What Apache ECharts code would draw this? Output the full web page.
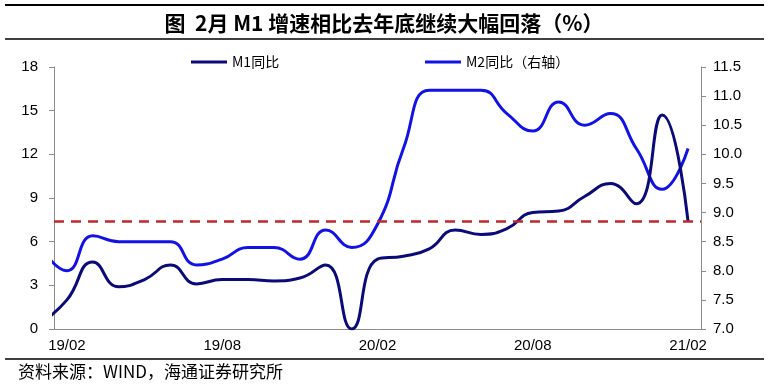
<!DOCTYPE html>
<html>
<head>
<meta charset="utf-8">
<script src="https://cdn.jsdelivr.net/npm/echarts@6/dist/echarts.min.js"></script>
<style>html,body{margin:0;padding:0;background:#fff}#c{width:782px;height:386px}</style>
</head>
<body>
<div id="c"></div>
<script>
// Axis tick labels (categories Feb 2019 .. Feb 2021)
var categories = ['19/02','19/03','19/04','19/05','19/06','19/07','19/08','19/09','19/10','19/11','19/12',
  '20/01','20/02','20/03','20/04','20/05','20/06','20/07','20/08','20/09','20/10','20/11','20/12',
  '21/01','21/02'];
// Monthly values Jan 2019 .. Feb 2021 (index 0 = 2019/01, partly clipped at the left edge)
var m1 = [0.4,2.0,4.6,2.9,3.4,4.4,3.1,3.4,3.4,3.3,3.5,4.4,0.0,4.8,5.0,5.5,6.8,6.5,6.9,8.0,8.1,9.1,10.0,8.6,14.7,7.4];
var m2 = [8.4,8.0,8.6,8.5,8.5,8.5,8.1,8.2,8.4,8.4,8.2,8.7,8.4,8.8,10.1,11.1,11.1,11.1,10.7,10.4,10.9,10.5,10.7,10.1,9.4,10.1];
var refLine = 7.4;

function pairs(arr){ return arr.map(function(v,i){ return [i, v]; }); }

var FONT = '"Liberation Sans", Arial, sans-serif';
var CJK = '"Noto Sans CJK SC", sans-serif';
var axisGray = '#8c8c8c';

var chart = echarts.init(document.getElementById('c'), null, {renderer:'canvas'});
chart.setOption({
  animation: false,
  backgroundColor: '#fff',
  graphic: [
    {type:'line', shape:{x1:5,y1:5,x2:764,y2:5}, style:{stroke:'#000', lineWidth:2}},
    {type:'line', shape:{x1:5,y1:39,x2:764,y2:39}, style:{stroke:'#000', lineWidth:1.5}},
    {type:'line', shape:{x1:5,y1:359,x2:764,y2:359}, style:{stroke:'#000', lineWidth:1.5}},
    {type:'text', x:384, y:23, style:{text:'图  2月 M1 增速相比去年底继续大幅回落（%）', font:'bold 21px ' + CJK, fill:'#000', textAlign:'center', textVerticalAlign:'middle'}},
    {type:'text', x:18, y:372, style:{text:'资料来源：WIND，海通证券研究所', font:'17px ' + CJK, fill:'#000', textAlign:'left', textVerticalAlign:'middle'}}
  ],
  legend: [
    {data:['M1同比'], left:186, top:50, icon:'rect', itemWidth:36, itemHeight:3, itemGap:4,
     textStyle:{fontFamily:CJK, fontSize:14, color:'#000'}},
    {data:['M2同比（右轴）'], left:420, top:50, icon:'rect', itemWidth:36, itemHeight:3, itemGap:4,
     textStyle:{fontFamily:CJK, fontSize:14, color:'#000'}}
  ],
  grid: {left:54, right:81, top:67, bottom:57, containLabel:false},
  xAxis: [
    {type:'category', data:categories, boundaryGap:true, position:'bottom',
     axisLine:{lineStyle:{color:axisGray, width:1}},
     axisTick:{interval:5, length:5, lineStyle:{color:axisGray}},
     axisLabel:{interval:5, color:'#000', fontFamily:FONT, fontSize:15, margin:9},
     splitLine:{show:false}},
    {type:'value', min:0.5, max:25.5, show:false, splitLine:{show:false}}
  ],
  yAxis: [
    {type:'value', min:0, max:18, interval:3, position:'left',
     axisLine:{show:true, lineStyle:{color:axisGray}},
     axisTick:{show:true, length:5, lineStyle:{color:axisGray}},
     axisLabel:{color:'#000', fontFamily:FONT, fontSize:15, margin:16},
     splitLine:{show:false}},
    {type:'value', min:7, max:11.5, interval:0.5, position:'right',
     axisLine:{show:true, lineStyle:{color:axisGray}},
     axisTick:{show:true, length:5, lineStyle:{color:axisGray}},
     axisLabel:{color:'#000', fontFamily:FONT, fontSize:15, margin:12, formatter:function(v){return v.toFixed(1);}},
     splitLine:{show:false}}
  ],
  series: [
    {name:'M1同比', type:'line', xAxisIndex:1, yAxisIndex:0, data:pairs(m1), smooth:0.5,
     symbol:'none', lineStyle:{color:'#0a0a78', width:3}, itemStyle:{color:'#0a0a78'}, z:3,
     markLine:{silent:true, symbol:'none', label:{show:false},
       lineStyle:{color:'#c0282d', width:2.5, type:[10,7]},
       data:[{yAxis:refLine}]}},
    {name:'M2同比（右轴）', type:'line', xAxisIndex:1, yAxisIndex:1, data:pairs(m2), smooth:0.5,
     symbol:'none', lineStyle:{color:'#1212e6', width:3}, itemStyle:{color:'#1212e6'}, z:2}
  ]
});
</script>
</body>
</html>
